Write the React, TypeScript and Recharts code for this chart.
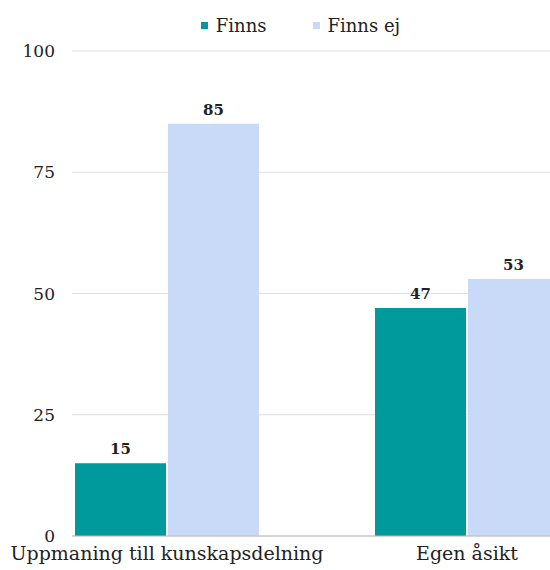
import { BarChart, Bar, XAxis, YAxis, CartesianGrid, Legend, LabelList } from 'recharts'

const categories = ['Uppmaning till kunskapsdelning', 'Egen åsikt']
const finns = [15, 47]
const finnsEj = [85, 53]
const yTicks = [0, 25, 50, 75, 100]

const data = categories.map((name, i) => ({
  name,
  finns: finns[i],
  finnsEj: finnsEj[i],
}))

const FONT = 'DejaVu Serif'

const renderLegend = (props: any) => {
  const { payload } = props
  return (
    <div style={{ display: 'flex', justifyContent: 'center', fontFamily: FONT, fontSize: 18, color: '#222' }}>
      {payload.map((p: any, i: number) => (
        <span key={p.value} style={{ display: 'inline-flex', alignItems: 'center', marginLeft: i > 0 ? 46 : 0 }}>
          <span style={{ width: 7, height: 7, background: p.color, display: 'inline-block', marginRight: 8 }} />
          {p.value}
        </span>
      ))}
    </div>
  )
}

export default function App() {
  return (
    <div style={{ position: 'absolute', left: 0, top: 0, width: 550, height: 570, overflow: 'hidden', background: '#fff' }}>
      <BarChart
        width={617}
        height={570}
        data={data}
        margin={{ top: 21, right: 0, bottom: 0, left: 0 }}
        barGap={2}
        barSize={91}
      >
        <Legend verticalAlign='top' height={30} content={renderLegend} wrapperStyle={{ left: -8, top: 15 }} />
        <CartesianGrid vertical={false} stroke='#e0e0e0' />
        <XAxis
          dataKey='name'
          padding={{ left: -55, right: 0 }}
          interval={0}
          tickLine={false}
          tickSize={0}
          tickMargin={11}
          height={34}
          stroke='#bbb'
          tick={{ fill: '#222', fontFamily: FONT, fontSize: 19 }}
        />
        <YAxis
          domain={[0, 100]}
          ticks={yTicks}
          width={72}
          axisLine={false}
          tickLine={false}
          tickSize={0}
          tickMargin={17}
          tick={{ fill: '#222', fontFamily: FONT, fontSize: 17 }}
        />
        <Bar dataKey='finns' name='Finns' fill='#00999c' isAnimationActive={false}>
          <LabelList dataKey='finns' position='top' offset={9} style={{ fill: '#222', fontFamily: FONT, fontSize: 15, fontWeight: 'bold' }} />
        </Bar>
        <Bar dataKey='finnsEj' name='Finns ej' fill='#c9daf8' isAnimationActive={false}>
          <LabelList dataKey='finnsEj' position='top' offset={9} style={{ fill: '#222', fontFamily: FONT, fontSize: 15, fontWeight: 'bold' }} />
        </Bar>
      </BarChart>
    </div>
  )
}
